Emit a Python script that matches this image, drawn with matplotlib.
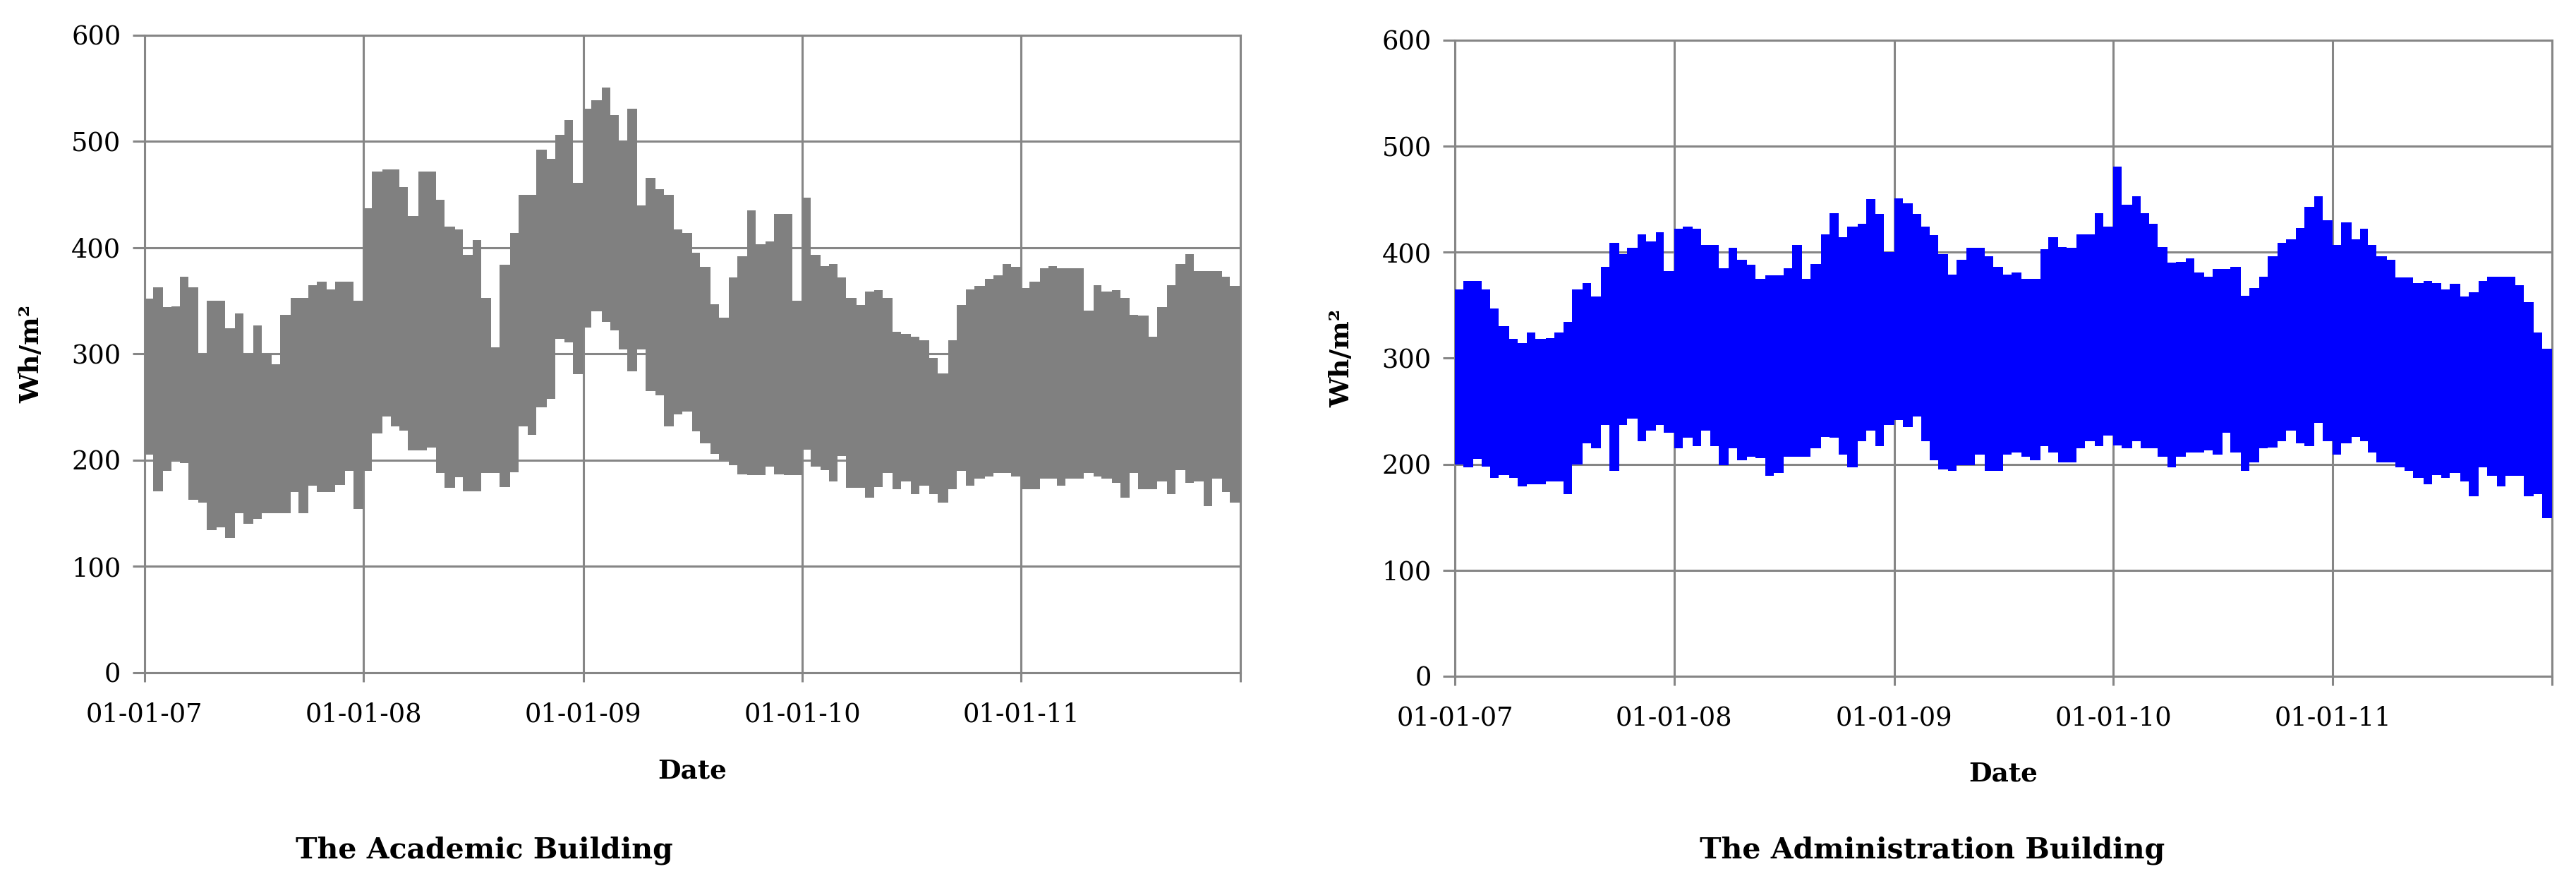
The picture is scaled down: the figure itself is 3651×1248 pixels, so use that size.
import pandas as pd
import matplotlib.pyplot as plt
import matplotlib.dates as mdates

# half-month envelope of the daily energy use (Wh/m2), Jan 2007 - Dec 2011
academic_high = [
    352, 363, 344, 345, 373, 363, 300, 350, 350, 324, 338, 300, 327, 300, 290, 337, 353, 353, 365, 368, 361, 368, 368, 350,
    437, 472, 474, 474, 457, 430, 472, 472, 445, 420, 417, 393, 407, 353, 306, 384, 414, 450, 450, 492, 484, 506, 520, 461,
    531, 539, 551, 525, 501, 531, 440, 466, 455, 450, 417, 414, 395, 382, 347, 334, 372, 392, 435, 403, 406, 432, 432, 350,
    447, 393, 383, 385, 372, 353, 346, 359, 360, 353, 321, 319, 316, 313, 296, 282, 313, 346, 361, 364, 371, 374, 385, 382,
    362, 368, 381, 383, 381, 381, 381, 341, 365, 359, 360, 353, 337, 336, 316, 344, 365, 385, 394, 378, 378, 378, 373, 364,
]
academic_low = [
    205, 171, 190, 200, 197, 163, 160, 134, 137, 127, 150, 140, 145, 150, 150, 150, 170, 150, 176, 170, 170, 177, 190, 154,
    190, 225, 241, 232, 228, 209, 209, 212, 188, 174, 184, 171, 171, 188, 188, 175, 189, 232, 224, 250, 258, 314, 311, 281,
    325, 340, 330, 322, 304, 284, 304, 265, 261, 232, 243, 246, 227, 216, 206, 200, 195, 187, 186, 186, 194, 187, 186, 186,
    210, 194, 191, 180, 204, 174, 174, 165, 175, 188, 173, 180, 168, 176, 168, 160, 173, 190, 176, 183, 185, 188, 188, 185,
    173, 173, 183, 183, 176, 183, 183, 188, 185, 183, 179, 165, 188, 173, 173, 180, 168, 191, 179, 180, 157, 183, 170, 160,
]
admin_high = [
    365, 373, 373, 365, 347, 330, 318, 314, 324, 318, 319, 324, 334, 365, 371, 358, 386, 409, 398, 404, 417, 410, 419, 382,
    422, 424, 422, 407, 407, 385, 404, 393, 388, 375, 378, 378, 385, 407, 375, 389, 417, 437, 414, 424, 427, 450, 436, 400,
    451, 446, 436, 424, 416, 398, 379, 393, 404, 404, 396, 386, 379, 381, 375, 375, 403, 414, 405, 404, 417, 417, 437, 424,
    481, 445, 453, 437, 427, 405, 390, 391, 394, 381, 377, 384, 384, 386, 359, 366, 377, 396, 409, 412, 423, 443, 453, 430,
    407, 428, 412, 422, 407, 396, 393, 376, 376, 371, 373, 371, 365, 370, 358, 362, 373, 377, 377, 377, 369, 353, 324, 309,
]
admin_low = [
    200, 197, 205, 198, 187, 190, 187, 179, 181, 181, 184, 184, 172, 200, 220, 215, 237, 194, 237, 243, 222, 232, 237, 230,
    215, 225, 217, 232, 217, 199, 215, 204, 207, 206, 189, 192, 207, 207, 207, 215, 226, 225, 209, 197, 222, 232, 217, 237,
    242, 235, 245, 222, 204, 195, 194, 199, 199, 209, 194, 194, 209, 211, 207, 204, 217, 211, 202, 202, 215, 222, 217, 227,
    218, 215, 222, 215, 215, 207, 197, 207, 211, 211, 213, 209, 230, 211, 194, 202, 215, 216, 222, 232, 220, 217, 239, 222,
    209, 220, 226, 222, 211, 202, 202, 197, 194, 187, 181, 190, 187, 192, 184, 170, 197, 189, 179, 189, 189, 170, 172, 149,
]

year_ticks = ["2007-01-01", "2008-01-01", "2009-01-01", "2010-01-01", "2011-01-01", "2012-01-01"]
year_labels = ["01-01-07", "01-01-08", "01-01-09", "01-01-10", "01-01-11", ""]
y_ticks = [0, 100, 200, 300, 400, 500, 600]

edges = mdates.date2num(pd.date_range("2007-01-01", "2012-01-01", freq="SMS").to_pydatetime())
ticks = mdates.date2num(pd.to_datetime(year_ticks).to_pydatetime())

GRID = "#868686"
SERIF = "DejaVu Serif"

fig = plt.figure(figsize=(36.51, 12.48), dpi=100)
ax1 = fig.add_axes([0.0561, 0.2364, 0.4254, 0.7236])
ax2 = fig.add_axes([0.5648, 0.2324, 0.4259, 0.7220])

panels = [
    (ax1, academic_high, academic_low, "#808080", "The Academic Building", 0.188),
    (ax2, admin_high, admin_low, "#0000ff", "The Administration Building", 0.750),
]

for ax, high, low, col, caption, cx in panels:
    ax.stairs(high, edges, baseline=low, fill=True, color=col, lw=0, zorder=3)

    ax.set_xlim(ticks[0], ticks[-1])
    ax.set_ylim(0, 600)
    ax.set_xticks(ticks)
    ax.set_xticklabels(year_labels)
    ax.set_yticks(y_ticks)
    ax.grid(True, color=GRID, lw=2.2, zorder=1)
    ax.set_axisbelow(True)
    for s in ax.spines.values():
        s.set_color(GRID)
        s.set_linewidth(2.2)
    ax.tick_params(axis="y", direction="out", length=12, width=2.2, color=GRID, pad=12,
                   labelsize=26.5)
    ax.tick_params(axis="x", direction="out", length=9, width=2.2, color=GRID, pad=21,
                   labelsize=26.5)
    for lab in ax.get_xticklabels() + ax.get_yticklabels():
        lab.set_family(SERIF)

    ax.set_ylabel("Wh/m²", family=SERIF, fontweight="bold", fontsize=27)
    ax.yaxis.set_label_coords(-0.091, 0.5)
    ax.set_xlabel("Date", family=SERIF, fontweight="bold", fontsize=27)
    ax.xaxis.set_label_coords(0.5, -0.133)

    fig.text(cx, 0.035, caption, family=SERIF, fontweight="bold", fontsize=29.5,
             ha="center", va="center")

fig.savefig("out.png", dpi=100, facecolor="white")
